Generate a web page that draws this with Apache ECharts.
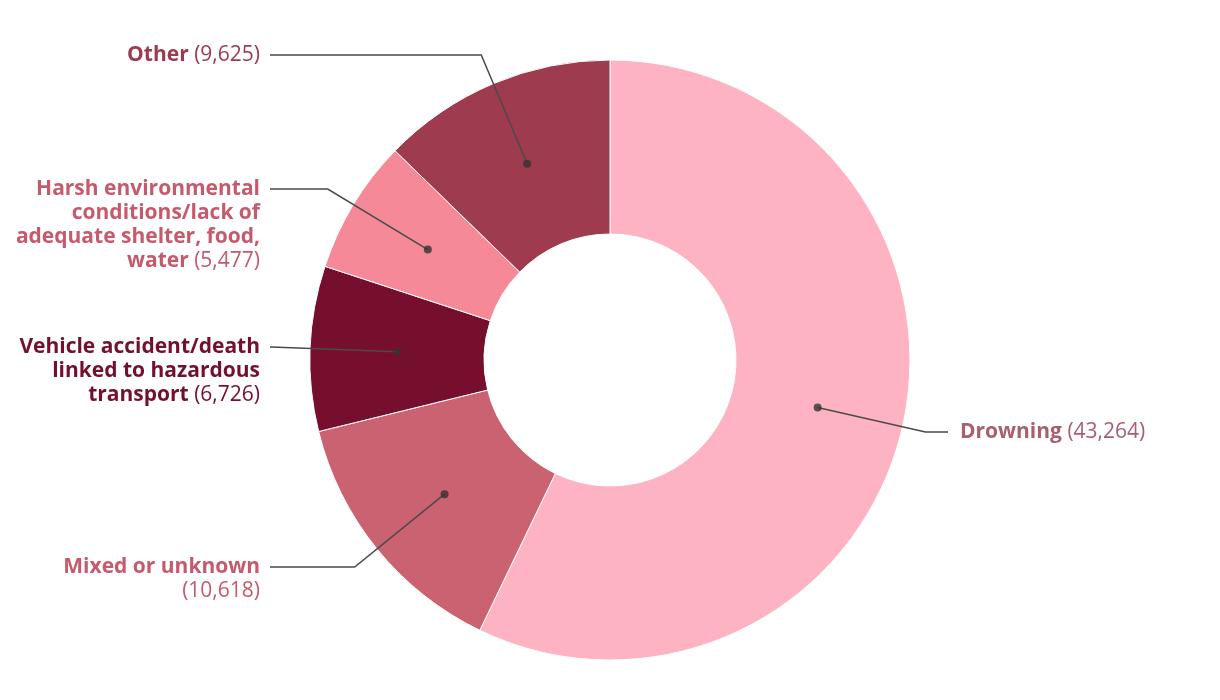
<!DOCTYPE html>
<html>
<head>
<meta charset="utf-8">
<script src="https://cdn.jsdelivr.net/npm/echarts@6/dist/echarts.min.js"></script>
<style>
  html, body { margin: 0; padding: 0; background: #ffffff; }
  #chart { width: 1220px; height: 700px; }
</style>
</head>
<body>
<div id="chart"></div>
<script>
// ---- data ----
var categories = [
  'Drowning',
  'Mixed or unknown\n',
  'Vehicle accident/death\nlinked to hazardous\ntransport',
  'Harsh environmental\nconditions/lack of\nadequate shelter, food,\nwater',
  'Other'
];
var values = [43264, 10618, 6726, 5477, 9625];
var sliceColors = ['#feb3c3', '#ca6271', '#760f2d', '#f68998', '#9e3b4e'];
var labelColors = ['#a85f70', '#c65a6d', '#74102d', '#c65a6d', '#9c3a4f'];

// ---- layout (not data) ----
var CX = 610, CY = 360, R_IN = 126, R_OUT = 300, R_DOT = 213;
var labelOnRight = [true, false, false, false, false];
var labelFirstLineY = [432, 567, 347, 189, 55];
var LEFT_TEXT_X = 260, LEFT_LINE_X = 270;
var RIGHT_TEXT_X = 960, RIGHT_LINE_X = 948;
var FONT = '"Open Sans", Lato, sans-serif';
var FS = 21, LH = 24;

var total = values.reduce(function (a, b) { return a + b; }, 0);
var cum = 0;
var dotData = values.map(function (v) {
  var mid = cum + v / 2;
  cum += v;
  return [R_DOT, mid];
});

function fmt(n) { return n.toLocaleString('en-US'); }

var rich = {};
labelColors.forEach(function (c, i) {
  var al = labelOnRight[i] ? 'left' : 'right';
  rich['b' + i] = { fontFamily: FONT, fontSize: FS, fontWeight: 'bold', color: c, lineHeight: LH, align: al };
  rich['v' + i] = { fontFamily: FONT, fontSize: FS, fontWeight: 'normal', color: c, lineHeight: LH, align: al };
});

var chart = echarts.init(document.getElementById('chart'), null, { renderer: 'canvas' });

var pieData = categories.map(function (name, i) {
  return { name: name, value: values[i], itemStyle: { color: sliceColors[i] } };
});
var anchorData = categories.map(function (name, i) {
  return { name: name, value: values[i] };
});

var option = {
  animation: false,
  backgroundColor: '#ffffff',
  polar: { center: [CX, CY], radius: R_OUT },
  angleAxis: { type: 'value', min: 0, max: total, startAngle: 90, clockwise: true, show: false },
  radiusAxis: { type: 'value', min: 0, max: R_OUT, show: false },
  series: [
    {
      type: 'pie',
      z: 2,
      center: [CX, CY],
      radius: [R_IN, R_OUT],
      startAngle: 90,
      clockwise: true,
      silent: true,
      label: { show: false },
      labelLine: { show: false },
      itemStyle: { borderColor: '#ffffff', borderWidth: 1 },
      data: pieData
    },
    {
      type: 'pie',
      z: 3,
      center: [CX, CY],
      radius: [0, R_DOT],
      startAngle: 90,
      clockwise: true,
      silent: true,
      avoidLabelOverlap: false,
      itemStyle: { color: 'rgba(0,0,0,0)', borderWidth: 0 },
      emphasis: { disabled: true },
      label: {
        show: true,
        position: 'outside',
        formatter: function (p) {
          var i = p.dataIndex;
          var lines = p.name.split('\n');
          var out = [];
          for (var k = 0; k < lines.length; k++) {
            var isLast = k === lines.length - 1;
            var s = '';
            if (lines[k] !== '') s += '{b' + i + '|' + lines[k] + '}';
            if (isLast) s += '{v' + i + '|' + (lines[k] !== '' ? ' ' : '') + '(' + fmt(p.value) + ')}';
            out.push(s);
          }
          return out.join('\n');
        },
        rich: rich
      },
      labelLine: {
        show: true,
        length: 20,
        length2: 20,
        smooth: false,
        lineStyle: { color: '#4a4a4a', width: 1.5 }
      },
      labelLayout: function (params) {
        var i = params.dataIndex;
        var pts = params.labelLinePoints;
        var p0 = pts[0], p1 = pts[1];
        var ly = labelFirstLineY[i];
        var dx = p1[0] - p0[0], dy = p1[1] - p0[1];
        var t = Math.abs(dy) > 1e-6 ? (ly - p0[1]) / dy : 0;
        if (t < 0) t = 0;
        var ex = p0[0] + dx * t;
        var right = labelOnRight[i];
        var endX = right ? RIGHT_LINE_X : LEFT_LINE_X;
        return {
          x: right ? RIGHT_TEXT_X : LEFT_TEXT_X,
          y: ly - LH / 2,
          align: right ? 'left' : 'right',
          verticalAlign: 'top',
          labelLinePoints: [[p0[0], p0[1]], [ex, ly], [endX, ly]]
        };
      },
      data: anchorData
    },
    {
      type: 'scatter',
      z: 4,
      coordinateSystem: 'polar',
      symbol: 'circle',
      symbolSize: 8,
      silent: true,
      itemStyle: { color: '#333333' },
      data: dotData
    }
  ]
};
chart.setOption(option);
</script>
</body>
</html>
